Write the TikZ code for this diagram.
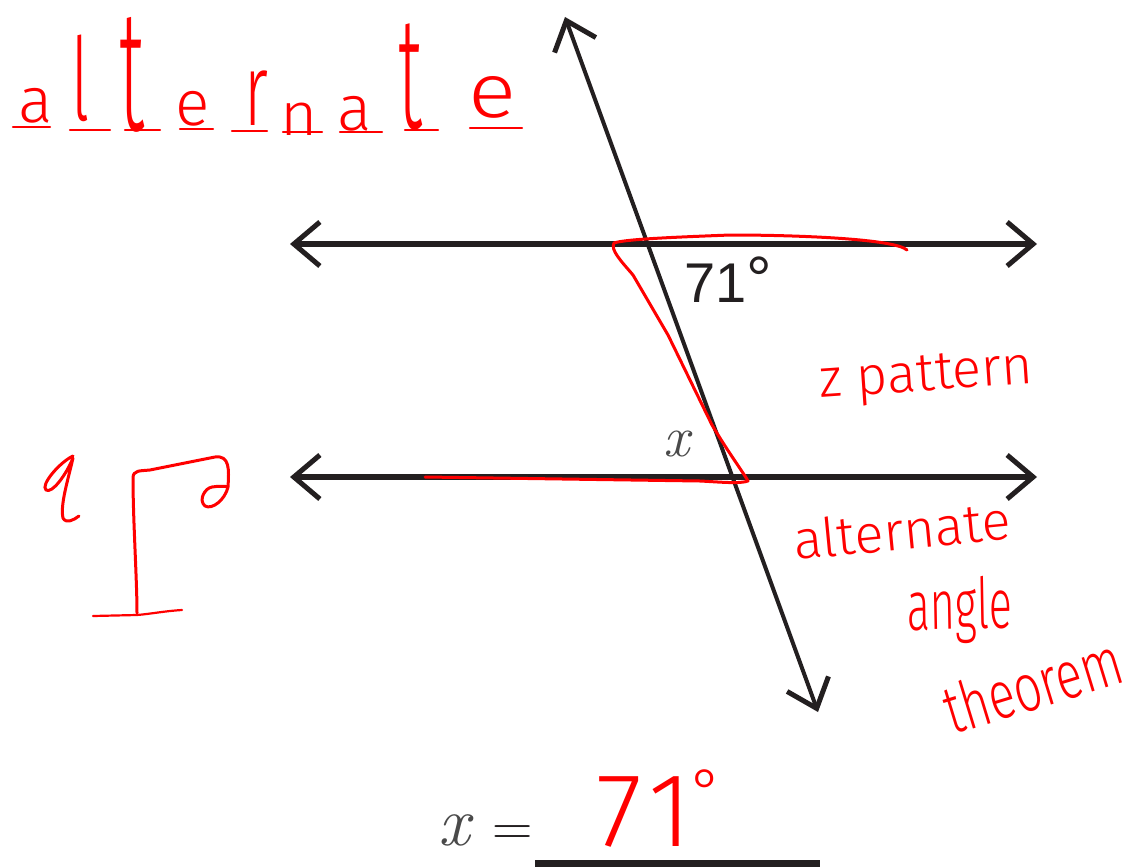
\documentclass[tikz,border=0pt]{standalone}
\usepackage{fontspec}
\usepackage{graphicx}
\newfontfamily\hand{Fira Sans Light}
\newfontfamily\sansf{Liberation Sans}
\usetikzlibrary{arrows.meta}
\definecolor{ink}{HTML}{231F20}
\definecolor{pen}{HTML}{FF0000}
\definecolor{xgray}{HTML}{4A4A4A}
\begin{document}
\begin{tikzpicture}[x=1pt,y=-1pt,
  barb/.tip={Straight Barb[length=26pt,width=44pt,line width=5pt]},
  geoline/.style={draw=ink, line width=5.5pt, barb-barb},
  transline/.style={draw=ink, line width=4pt, barb-barb},
  pen/.style={draw=pen, line width=3pt, line cap=round, line join=round},
  penthin/.style={draw=pen, line width=2.2pt, line cap=round, line join=round},
  hw/.style={text=pen, font=\hand\fontsize{54}{54}\selectfont, inner sep=0pt},
  hwbig/.style={text=pen, font=\hand\fontsize{64}{64}\selectfont, inner sep=0pt, anchor=base},
]
\useasboundingbox (0,0) rectangle (1132,867);

% geometry lines
\coordinate (T1) at (290,244);
\coordinate (T2) at (1037,244);
\coordinate (B1) at (290,477);
\coordinate (B2) at (1037,477);
\coordinate (S1) at (565,17);
\coordinate (S2) at (818,712);
\draw[geoline] (T1) -- (T2);
\draw[geoline] (B1) -- (B2);
\draw[transline] (S1) -- (S2);

% printed labels
\node[inner sep=0pt, anchor=base west, text=ink, font=\sansf\fontsize{56}{56}\selectfont] (a71) at (684,302) {71\raisebox{1pt}{\fontsize{64}{64}\selectfont °}};
\node[inner sep=0pt, text=xgray, font=\fontsize{58}{58}\selectfont\itshape] (xlab) at (677,444) {x};
\node[inner sep=0pt, anchor=base west, text=xgray, font=\fontsize{70}{70}\selectfont\itshape] (xeq) at (438,845) {x};
\node[inner sep=0pt, anchor=base west, text=ink, font=\fontsize{56}{56}\selectfont] (eq) at (492,845) {=};
\coordinate (U1) at (535,864);
\coordinate (U2) at (820,864);
\draw[ink, line width=8pt] (U1) -- (U2);

% Z pattern in red
\draw[pen] (907,250) .. controls (895,239) and (800,235) .. (730,235)
  .. controls (680,237) and (625,239) .. (614,243)
  .. controls (610,250) and (622,262) .. (633,275)
  -- (668,335) -- (712,425)
  .. controls (730,455) and (745,475) .. (748,481)
  .. controls (740,484) and (720,482) .. (700,481) -- (425,477);

% top-left "alternate"
\node[hwbig] (l1) at (36,122) {a};
\node[hwbig] (l2) at (81,120) {\scalebox{1}[1.8]{l}};
\node[hwbig] (l3) at (132,130) {\scalebox{1.15}[2.7]{t}};
\node[hwbig] (l4) at (193,125) {e};
\node[hwbig] (l5) at (256,125) {\scalebox{1}[1.6]{r}};
\node[hwbig] (l6) at (299,135) {\scalebox{1}[0.95]{n}};
\node[hwbig] (l7) at (355,130) {a};
\node[hwbig] (l8) at (410,128) {\scalebox{1.1}[2.5]{t}};
\node[hwbig] (l9) at (493,117) {\scalebox{1.4}[1.2]{e}};
\foreach \xa/\xb/\yy in {13/50/127, 70/110/130, 125/160/130, 180/213/129, 232/267/131, 283/322/132, 340/382/132, 405/438/130, 470/522/128}
  \draw[penthin] (\xa,\yy) -- (\xb,\yy);

% right notes
\node[hw, anchor=base west, rotate=4] (zp) at (820,398) {z pattern};
\node[hw, anchor=base west, rotate=5.5] (alt) at (795,560) {alternate};
\node[hw, anchor=base west, rotate=1, xscale=0.8, yscale=1.3] (ang) at (907,630) {angle};
\node[hw, anchor=base west, rotate=17, xscale=0.9, yscale=1.25] (thm) at (952,735) {theorem};

% handwritten answer
\node[text=pen, inner sep=0pt, anchor=base west, font=\hand\fontsize{105}{105}\selectfont] (ans) at (596,846) {7\kern6pt1\raisebox{35pt}{\fontsize{60}{60}\selectfont °}};

% left doodle
\draw[pen] (73,456) .. controls (60,462) and (40,485) .. (46,490)
  .. controls (52,494) and (66,475) .. (73,458)
  .. controls (68,480) and (60,505) .. (63,518)
  .. controls (66,524) and (74,520) .. (79,516);
\draw[pen] (137,613) .. controls (137,580) and (133,520) .. (133,478)
  .. controls (133,470) and (140,471) .. (150,470)
  -- (215,457) .. controls (230,455) and (229,470) .. (228,487)
  .. controls (225,500) and (212,510) .. (205,506)
  .. controls (198,500) and (205,488) .. (212,487)
  .. controls (218,486) and (226,486) .. (228,487);
\draw[penthin] (93,616) -- (137,615) .. controls (150,614) and (165,611) .. (182,610);
\end{tikzpicture}
\end{document}
